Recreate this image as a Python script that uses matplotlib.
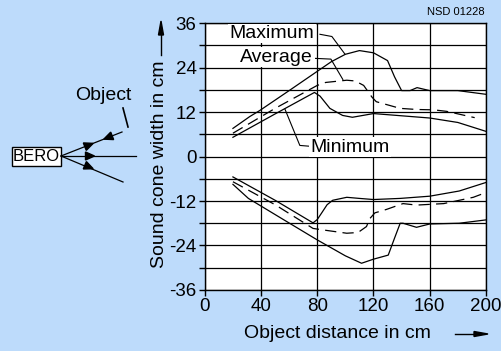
import numpy as np
import matplotlib.pyplot as plt
from matplotlib.patches import Polygon

# --------------------- data ---------------------
# upper half (positive side of the cone)
max_up_x = [20, 32, 39, 60, 80, 90, 100, 110, 120, 130, 135, 140, 146, 151, 160, 180, 200]
max_up_y = [7.6, 10.8, 12.4, 17.8, 23.0, 25.6, 27.6, 28.6, 28.0, 25.9, 21.5, 17.8, 17.8, 18.6, 17.8, 17.8, 16.8]

avg_up_x = [20, 50, 80, 86, 101, 107, 113, 119, 122, 139, 151, 163, 172, 192]
avg_up_y = [6.3, 13.0, 19.2, 20.0, 20.6, 20.4, 19.2, 16.0, 14.8, 13.0, 12.7, 12.6, 12.2, 10.5]

min_up_x = [20, 50, 78, 82, 89, 98, 105, 120, 140, 160, 180, 200]
min_up_y = [5.2, 11.5, 17.3, 16.3, 13.0, 11.1, 10.6, 11.6, 11.0, 10.4, 9.2, 6.8]

# lower half (negative side)
max_lo_x = [20, 31, 55, 80, 100, 111.5, 120, 130.5, 135, 139, 141, 150.6, 160, 181, 200]
max_lo_y = [-7.5, -11.3, -16.8, -22.5, -26.8, -28.8, -27.7, -26.6, -22.0, -18.0, -18.0, -19.1, -18.2, -18.0, -17.1]

avg_lo_x = [20, 50, 77, 84, 101, 109, 115, 117.5, 121, 129, 141, 150.6, 170, 191, 198]
avg_lo_y = [-6.8, -13.0, -19.4, -19.8, -20.7, -20.5, -18.9, -16.7, -15.2, -14.3, -12.7, -13.1, -12.7, -11.0, -10.0]

min_lo_x = [20, 50, 77, 80, 83, 87, 91, 101, 110, 120, 139, 160, 181, 200]
min_lo_y = [-5.5, -11.8, -17.9, -17.0, -15.3, -13.0, -11.8, -11.0, -11.3, -11.6, -11.3, -10.7, -9.3, -7.0]

x_ticks = [0, 40, 80, 120, 160, 200]
y_ticks = [-36, -24, -12, 0, 12, 24, 36]

bg = '#bddbfb'
font = 'Liberation Sans'
plt.rcParams['font.family'] = [font, 'DejaVu Sans']

# --------------------- figure ---------------------
fig = plt.figure(figsize=(5.02, 3.51), dpi=100, facecolor=bg)
ax = fig.add_axes([0.408, 0.174, 0.560, 0.760])
ax.set_facecolor('white')

ax.set_xlim(0, 200)
ax.set_ylim(-36, 36)
ax.set_xticks(x_ticks)
ax.set_yticks(y_ticks)
ax.set_yticks(np.arange(-36, 37, 6), minor=True)
ax.set_yticklabels([str(v) for v in y_ticks], fontsize=13.5)
ax.set_xticklabels([str(v) for v in x_ticks], fontsize=13.5)
ax.tick_params(direction='out', length=4, width=1, pad=2)
ax.tick_params(which='minor', direction='out', length=4, width=1)

ax.grid(True, which='both', axis='y', color='black', linewidth=0.9)
ax.grid(True, which='major', axis='x', color='black', linewidth=0.9)
for s in ax.spines.values():
    s.set_linewidth(1.0)

lw = 0.9
ax.plot(max_up_x, max_up_y, color='black', lw=lw)
ax.plot(avg_up_x, avg_up_y, color='black', lw=lw, dashes=(9, 5))
ax.plot(min_up_x, min_up_y, color='black', lw=lw)
ax.plot(max_lo_x, max_lo_y, color='black', lw=lw)
ax.plot(avg_lo_x, avg_lo_y, color='black', lw=lw, dashes=(9, 5))
ax.plot(min_lo_x, min_lo_y, color='black', lw=lw)

# curve labels with leader lines
box = dict(facecolor='white', edgecolor='none', pad=1)
ax.text(47.7, 33.2, 'Maximum', fontsize=14, ha='center', va='center', bbox=box)
ax.plot([81.9, 90.4, 99.6], [33.0, 32.4, 27.7], color='black', lw=0.8)
ax.text(51.2, 26.8, 'Average', fontsize=14, ha='center', va='center', bbox=box)
ax.plot([78.3, 89.7, 98.2], [26.5, 26.3, 20.8], color='black', lw=0.8)
ax.text(103, 2.5, 'Minimum', fontsize=14, ha='center', va='center', bbox=box)
ax.plot([74.0, 67.6, 57.0], [2.8, 3.0, 12.8], color='black', lw=0.8)

# axis labels
fig.text(337 / 502, 1 - 334 / 351, 'Object distance in cm', fontsize=14,
         ha='center', va='center')
fig.text(160 / 502, 1 - 164 / 351, 'Sound cone width in cm', fontsize=14,
         ha='center', va='center', rotation=90)
fig.text(485 / 502, 1 - 12 / 351, 'NSD 01228', fontsize=8, ha='right', va='center')

# label arrows
fig.add_artist(plt.Line2D([455 / 502, 478 / 502], [1 - 334 / 351] * 2,
                          transform=fig.transFigure, color='black', lw=1))
fig.add_artist(Polygon([[474 / 502, 1 - 331.5 / 351], [488 / 502, 1 - 334 / 351],
                        [474 / 502, 1 - 336.5 / 351]],
                       closed=True, transform=fig.transFigure, color='black'))
fig.add_artist(plt.Line2D([161 / 502] * 2, [1 - 55 / 351, 1 - 32 / 351],
                          transform=fig.transFigure, color='black', lw=1))
fig.add_artist(Polygon([[158.5 / 502, 1 - 35 / 351], [161 / 502, 1 - 21 / 351],
                        [163.5 / 502, 1 - 35 / 351]],
                       closed=True, transform=fig.transFigure, color='black'))

# --------------------- BERO sketch (pixel coordinates) ---------------------
def fx(px):
    return px / 502

def fy(py):
    return 1 - py / 351

fig.add_artist(plt.Rectangle((fx(12), fy(166)), 49 / 502, 19 / 351,
                             transform=fig.transFigure, facecolor='white',
                             edgecolor='black', lw=1))
fig.text(fx(36.5), fy(156.5), 'BERO', fontsize=12, ha='center', va='center')

for (x1, y1) in [(136, 156), (122, 132), (123, 182)]:
    fig.add_artist(plt.Line2D([fx(61), fx(x1)], [fy(156), fy(y1)],
                              transform=fig.transFigure, color='black', lw=0.9))


def tri(cx, cy, dx, dy, size=7, half=3.5):
    n = np.hypot(dx, dy)
    ux, uy = dx / n, dy / n
    px_, py_ = -uy, ux
    tip = (cx + ux * size / 2, cy + uy * size / 2)
    b1 = (cx - ux * size / 2 + px_ * half, cy - uy * size / 2 + py_ * half)
    b2 = (cx - ux * size / 2 - px_ * half, cy - uy * size / 2 - py_ * half)
    pts = [[fx(p[0]), fy(p[1])] for p in (tip, b1, b2)]
    fig.add_artist(Polygon(pts, closed=True, transform=fig.transFigure, color='black'))


tri(89, 145, 61, -24, size=9, half=4)
tri(90, 156, 1, 0, size=9, half=4)
tri(89, 167, 62, 26, size=9, half=4)
tri(108, 137.5, -61, 24, size=9, half=4)

fig.text(fx(103), fy(96), 'Object', fontsize=14, ha='center', va='center')
fig.add_artist(plt.Line2D([fx(123), fx(128)], [fy(108), fy(127)],
                          transform=fig.transFigure, color='black', lw=1.2))

fig.savefig('out.png', dpi=100, facecolor=bg)
